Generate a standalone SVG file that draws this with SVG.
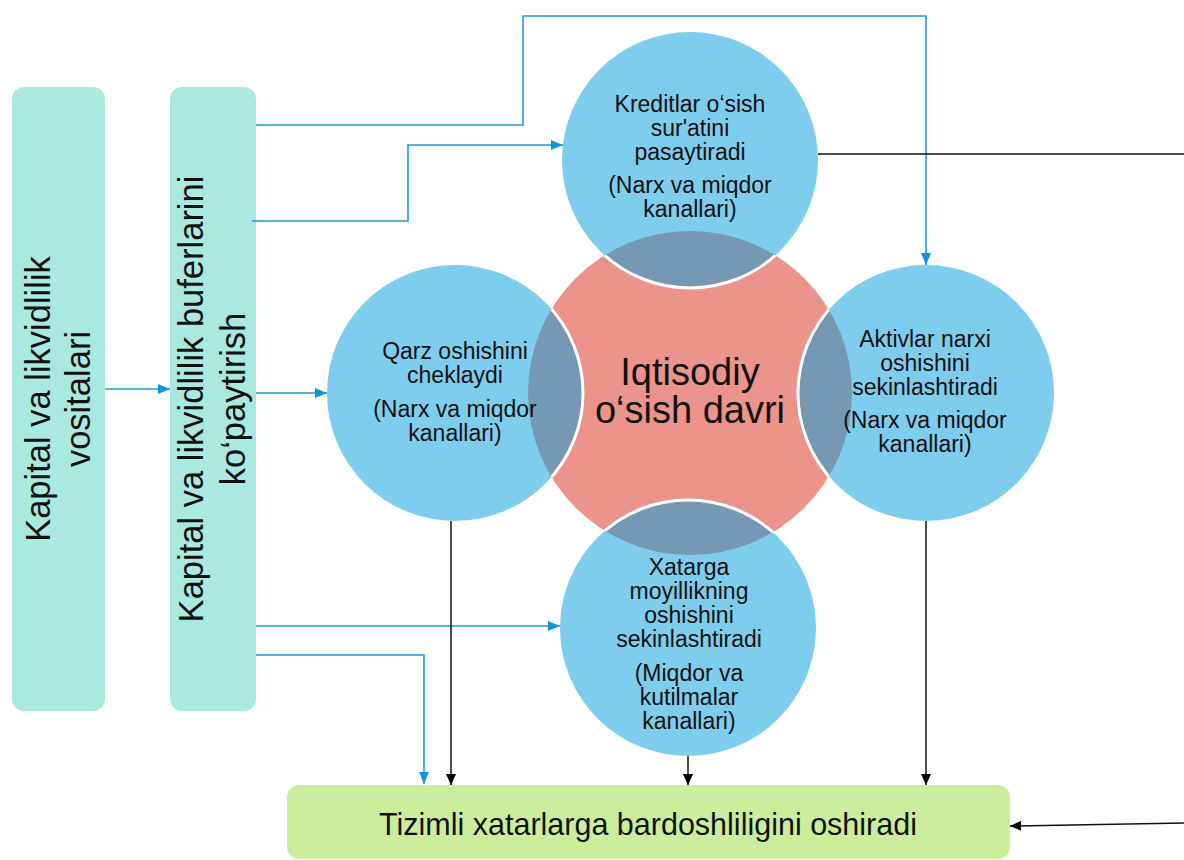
<svg xmlns="http://www.w3.org/2000/svg" width="1184" height="860" viewBox="0 0 1184 860">
  <style>
    text { font-family: "Liberation Sans", Arial, sans-serif; fill: #111; text-anchor: middle; }
    .box { fill: #AAE9E0; }
    .out { fill: #CCEE9C; }
    .bub { fill: #7FCDEE; }
    .lens { fill: #7698B3; }
    .rim { fill: none; stroke: #fff; stroke-width: 3; }
    .lbl { font-size: 23px; }
    .vt { font-size: 34.5px; }
    .blue { fill: none; stroke: #1F9BDD; stroke-width: 1.6; marker-end: url(#arrB); }
    .blk { fill: none; stroke: #111; stroke-width: 1.5; marker-end: url(#arrK); }
    .plain { fill: none; stroke: #111; stroke-width: 1.5; }
  </style>
  <defs>
    <marker id="arrB" viewBox="0 0 12 10" refX="12" refY="5" markerWidth="12" markerHeight="10" markerUnits="userSpaceOnUse" orient="auto">
      <path d="M0,0 L12,5 L0,10 z" fill="#0E96DC"/>
    </marker>
    <marker id="arrK" viewBox="0 0 11 10" refX="11" refY="5" markerWidth="11" markerHeight="10" markerUnits="userSpaceOnUse" orient="auto">
      <path d="M0,0 L11,5 L0,10 z" fill="#000"/>
    </marker>
    <clipPath id="core">
      <circle cx="690" cy="393" r="162"/>
    </clipPath>
  </defs>

  <!-- left column -->
  <g id="tools">
    <rect class="box" x="12" y="87" width="93" height="624" rx="12"/>
    <g transform="translate(0,399) rotate(-90)">
      <text class="vt" x="0" y="50">Kapital va likvidlilik</text>
      <text class="vt" x="0" y="90">vositalari</text>
    </g>
  </g>

  <g id="buffers">
    <rect class="box" x="170" y="87" width="86" height="624" rx="12"/>
    <g transform="translate(0,399) rotate(-90)">
      <text class="vt" x="0" y="203">Kapital va likvidlilik buferlarini</text>
      <text class="vt" x="0" y="245">ko‘paytirish</text>
    </g>
  </g>

  <!-- central cycle -->
  <g id="cycle">
    <circle cx="690" cy="393" r="162" fill="#EC938B"/>
    <text x="690" y="385" font-size="38">Iqtisodiy</text>
    <text x="690" y="423" font-size="38">o‘sish davri</text>
  </g>

  <g id="credit">
    <circle class="bub" cx="690" cy="160" r="128"/>
    <circle class="lens" cx="690" cy="160" r="128" clip-path="url(#core)"/>
    <circle class="rim" cx="690" cy="160" r="128" clip-path="url(#core)"/>
    <text class="lbl" x="690" y="112">Kreditlar o‘sish</text>
    <text class="lbl" x="690" y="136">sur'atini</text>
    <text class="lbl" x="690" y="160">pasaytiradi</text>
    <text class="lbl" x="690" y="193">(Narx va miqdor</text>
    <text class="lbl" x="690" y="217">kanallari)</text>
  </g>

  <g id="debt">
    <circle class="bub" cx="455" cy="393" r="128"/>
    <circle class="lens" cx="455" cy="393" r="128" clip-path="url(#core)"/>
    <circle class="rim" cx="455" cy="393" r="128" clip-path="url(#core)"/>
    <text class="lbl" x="455" y="359">Qarz oshishini</text>
    <text class="lbl" x="455" y="383">cheklaydi</text>
    <text class="lbl" x="455" y="417">(Narx va miqdor</text>
    <text class="lbl" x="455" y="441">kanallari)</text>
  </g>

  <g id="assets">
    <circle class="bub" cx="926" cy="393" r="128"/>
    <circle class="lens" cx="926" cy="393" r="128" clip-path="url(#core)"/>
    <circle class="rim" cx="926" cy="393" r="128" clip-path="url(#core)"/>
    <text class="lbl" x="925" y="347">Aktivlar narxi</text>
    <text class="lbl" x="925" y="371">oshishini</text>
    <text class="lbl" x="925" y="395">sekinlashtiradi</text>
    <text class="lbl" x="925" y="428">(Narx va miqdor</text>
    <text class="lbl" x="925" y="452">kanallari)</text>
  </g>

  <g id="risk">
    <circle class="bub" cx="688" cy="628" r="128"/>
    <circle class="lens" cx="688" cy="628" r="128" clip-path="url(#core)"/>
    <circle class="rim" cx="688" cy="628" r="128" clip-path="url(#core)"/>
    <text class="lbl" x="689" y="575">Xatarga</text>
    <text class="lbl" x="689" y="599">moyillikning</text>
    <text class="lbl" x="689" y="623">oshishini</text>
    <text class="lbl" x="689" y="647">sekinlashtiradi</text>
    <text class="lbl" x="689" y="681">(Miqdor va</text>
    <text class="lbl" x="689" y="705">kutilmalar</text>
    <text class="lbl" x="689" y="729">kanallari)</text>
  </g>

  <g id="resilience">
    <rect class="out" x="287" y="785" width="723" height="74" rx="12"/>
    <text x="648" y="835" font-size="30.5">Tizimli xatarlarga bardoshliligini oshiradi</text>
  </g>

  <!-- connectors -->
  <g id="connectors">
    <path class="blue" d="M105,389 H170"/>
    <path class="blue" d="M256,393 H327"/>
    <path class="blue" d="M256,125 H523 V16 H926 V265"/>
    <path class="blue" d="M252,221 H408 V145 H563"/>
    <path class="blue" d="M256,626 H560"/>
    <path class="blue" d="M256,655 H424 V784"/>
    <path class="blk" d="M451,521 V785"/>
    <path class="blk" d="M688,756 V785"/>
    <path class="blk" d="M926,521 V785"/>
    <path class="plain" d="M818,154 H1184"/>
    <path class="blk" d="M1184,823 L1010,826"/>
  </g>
</svg>
